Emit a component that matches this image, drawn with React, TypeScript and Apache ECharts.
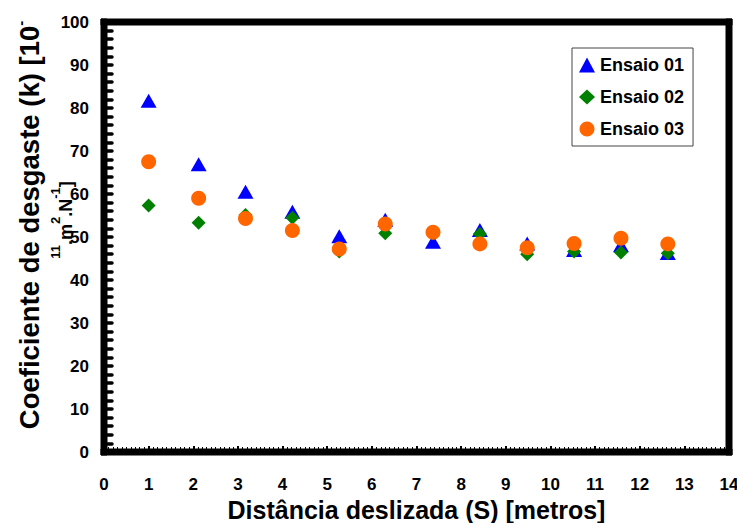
import React, { useEffect, useRef } from "react";
import * as echarts from "echarts";

const xValues = [1.0, 2.12, 3.17, 4.22, 5.27, 6.3, 7.37, 8.42, 9.48, 10.53, 11.58, 12.63];
const ensaio01 = [81.7, 66.9, 60.5, 55.9, 50.2, 54.0, 48.9, 51.6, 48.5, 47.0, 48.1, 46.3];
const ensaio02 = [57.3, 53.3, 55.1, 54.5, 46.6, 50.9, 50.8, 50.7, 46.0, 46.6, 46.4, 46.2];
const ensaio03 = [67.5, 59.0, 54.3, 51.5, 47.2, 53.0, 51.1, 48.4, 47.5, 48.5, 49.7, 48.4];
const seriesNames = ["Ensaio 01", "Ensaio 02", "Ensaio 03"];
const xTitle = "Distância deslizada (S) [metros]";
const yTitleLine1 = "Coeficiente de desgaste (k) [10";

const FONT = "'Liberation Sans', Arial, sans-serif";
const GRID = { left: 104, right: 8, top: 22, bottom: 71 };
const W = 737;
const H = 523;
const FW = 6; // frame thickness

export default function App() {
  const ref = useRef<HTMLDivElement>(null);
  useEffect(() => {
    if (!ref.current) return;
    const chart = echarts.init(ref.current, null, { renderer: "svg" });
    const pts = (ys: number[]) => ys.map((y, i) => [xValues[i], y]);
    const frameLine = { color: "#000", width: FW };
    const gx0 = GRID.left;
    const gy0 = GRID.top;
    const gx1 = W - GRID.right;
    const gy1 = H - GRID.bottom;
    const bar = (x: number, y: number, w: number, h: number) => ({
      type: "rect",
      silent: true,
      z: 50,
      shape: { x, y, width: w, height: h },
      style: { fill: "#000", stroke: "#000", lineWidth: 1 },
    });
    chart.setOption({
      animation: false,
      backgroundColor: "#fff",
      textStyle: { fontFamily: FONT },
      grid: {
        ...GRID,
        show: false,
        outerBoundsMode: "none",
        containLabel: false,
      },
      legend: {
        orient: "vertical",
        left: 572,
        top: 48,
        padding: [8, 9, 8, 7],
        itemGap: 14,
        itemWidth: 16,
        itemHeight: 15,
        borderColor: "#444",
        borderWidth: 1,
        backgroundColor: "#fff",
        textStyle: { fontFamily: FONT, fontWeight: "bold", fontSize: 18, color: "#000" },
        data: seriesNames,
      },
      xAxis: [
        {
          type: "value",
          position: "bottom",
          min: 0,
          max: 14,
          interval: 1,
          splitLine: { show: false },
          axisLine: { show: true, onZero: false, lineStyle: frameLine },
          axisTick: { show: true, inside: true, length: 6, lineStyle: { color: "#000", width: 2 } },
          minorTick: { show: true, splitNumber: 10, length: 5, lineStyle: { color: "#000", width: 1 } },
          axisLabel: { margin: 24, fontFamily: FONT, fontWeight: "bold", fontSize: 17, color: "#000" },
          name: xTitle,
          nameLocation: "middle",
          nameGap: 44,
          nameTextStyle: { fontFamily: FONT, fontWeight: "bold", fontSize: 25, color: "#000" },
        },
        {
          type: "value",
          position: "top",
          min: 0,
          max: 14,
          interval: 1,
          splitLine: { show: false },
          axisLine: { show: true, onZero: false, lineStyle: frameLine },
          axisTick: { show: false },
          axisLabel: { show: false },
        },
      ],
      yAxis: [
        {
          type: "value",
          position: "left",
          min: 0,
          max: 100,
          interval: 10,
          splitLine: { show: false },
          axisLine: { show: true, onZero: false, lineStyle: frameLine },
          axisTick: { show: true, inside: true, length: 8, lineStyle: { color: "#000", width: 3.5, cap: "round" } },
          minorTick: { show: true, splitNumber: 5, length: 8, lineStyle: { color: "#000", width: 3.5, cap: "round" } },
          axisLabel: { margin: 15, fontFamily: FONT, fontWeight: "bold", fontSize: 17, color: "#000" },
        },
        {
          type: "value",
          position: "right",
          min: 0,
          max: 100,
          interval: 10,
          splitLine: { show: false },
          axisLine: { show: true, onZero: false, lineStyle: frameLine },
          axisTick: { show: false },
          axisLabel: { show: false },
        },
      ],
      series: [
        {
          name: seriesNames[0],
          type: "scatter",
          symbol: "triangle",
          symbolSize: [16, 14],
          itemStyle: { color: "#0000FF", opacity: 1 },
          data: pts(ensaio01),
        },
        {
          name: seriesNames[1],
          type: "scatter",
          symbol: "diamond",
          symbolSize: 14,
          itemStyle: { color: "#008000", opacity: 1 },
          data: pts(ensaio02),
        },
        {
          name: seriesNames[2],
          type: "scatter",
          symbol: "circle",
          symbolSize: 15,
          itemStyle: { color: "#FF6600", opacity: 1 },
          data: pts(ensaio03),
        },
      ],
      graphic: {
        elements: [
          bar(gx0 - FW / 2, gy0 - FW / 2, gx1 - gx0 + FW, FW),
          bar(gx0 - FW / 2, gy1 - FW / 2, gx1 - gx0 + FW, FW),
          bar(gx0 - FW / 2, gy0 - FW / 2, FW, gy1 - gy0 + FW),
          bar(gx1 - FW / 2, gy0 - FW / 2, FW, gy1 - gy0 + FW),
          {
            type: "text",
            x: 28,
            y: 225,
            rotation: Math.PI / 2,
            style: {
              text: "{b|" + yTitleLine1 + "}{s|-}",
              align: "center",
              verticalAlign: "middle",
              fill: "#000",
              rich: {
                b: { fontFamily: FONT, fontWeight: "bold", fontSize: 27.5, lineHeight: 31, verticalAlign: "bottom", fill: "#000" },
                s: { fontFamily: FONT, fontWeight: "bold", fontSize: 15, lineHeight: 15, verticalAlign: "top", fill: "#000" },
              },
            },
          },
          {
            type: "text",
            x: 62,
            y: 220,
            rotation: Math.PI / 2,
            style: {
              text: "{s|11}{b|.m}{s|2}{b|.N}{s|-1}{b|]}",
              align: "center",
              verticalAlign: "middle",
              fill: "#000",
              rich: {
                b: { fontFamily: FONT, fontWeight: "bold", fontSize: 18, lineHeight: 26, verticalAlign: "bottom", fill: "#000" },
                s: { fontFamily: FONT, fontWeight: "bold", fontSize: 13, lineHeight: 13, verticalAlign: "top", fill: "#000" },
              },
            },
          },
        ],
      },
    });
    return () => chart.dispose();
  }, []);
  return <div ref={ref} style={{ width: W, height: H, position: "absolute", left: 0, top: 0 }} />;
}
